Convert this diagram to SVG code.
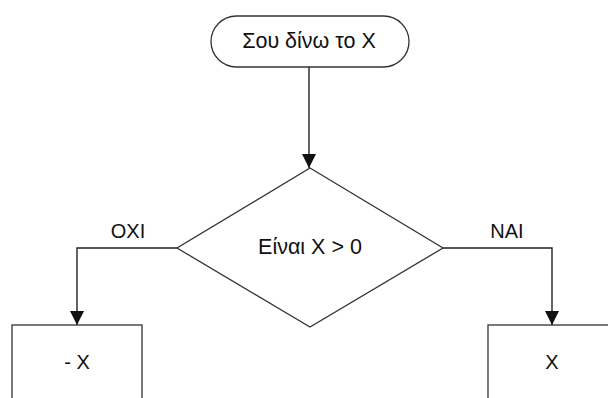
<svg xmlns="http://www.w3.org/2000/svg" width="608" height="398" viewBox="0 0 608 398">
<defs>
<marker id="arr" markerWidth="14" markerHeight="15" refX="14" refY="7" orient="auto" markerUnits="userSpaceOnUse" viewBox="0 0 14 14">
<path d="M0,0 L14,7 L0,14 Z" fill="#111"/>
</marker>
<style>
.shape{fill:#fff;stroke:#333;stroke-width:1.3}
.edge{fill:none;stroke:#222;stroke-width:1.4;marker-end:url(#arr)}
text{font-family:"Liberation Sans",Arial,sans-serif;font-size:20px;fill:#111;text-anchor:middle;dominant-baseline:central}
.big{font-size:21.5px}
</style>
</defs>
<rect width="608" height="398" fill="#fff"/>
<g id="connectors">
<path class="edge" d="M309,67 V168"/>
<path class="edge" d="M177,248 H77 V325"/>
<path class="edge" d="M443,248 H552 V325"/>
<text x="128" y="231">OXI</text>
<text x="507" y="231">NAI</text>
</g>
<g id="start">
<rect class="shape" x="211" y="16" width="198" height="51" rx="25.5" ry="25.5"/>
<text class="big" x="309" y="41">Σου δίνω το X</text>
</g>
<g id="decision">
<polygon class="shape" points="310,168 443,248 310,327 177,248"/>
<text class="big" x="310" y="247">Είναι X &gt; 0</text>
</g>
<g id="neg">
<rect class="shape" x="12" y="325" width="130" height="90"/>
<text x="77" y="362">- X</text>
</g>
<g id="pos">
<rect class="shape" x="488" y="325" width="130" height="90"/>
<text x="552" y="362">X</text>
</g>
</svg>
